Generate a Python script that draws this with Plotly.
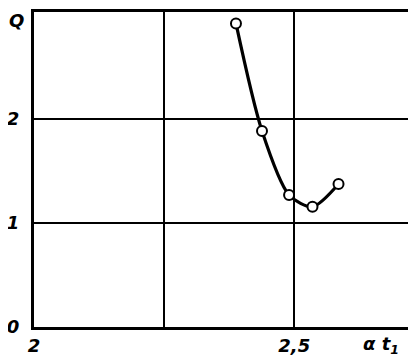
import plotly.graph_objects as go

# data
x_vals = [2.388, 2.438, 2.490, 2.535, 2.585]
q_vals = [2.92, 1.885, 1.27, 1.157, 1.375]

x_tickvals = [2.0, 2.5]
x_ticktext = ["2", "2,5"]
x_gridvals = [2.25]
y_tickvals = [0, 1, 2]
y_ticktext = ["0", "1", "2"]
y_title = "Q"
y_title_at = 3
x_title = "α t<sub>1</sub>"
x_title_at = 2.667

fig = go.Figure()
fig.add_trace(go.Scatter(
    x=x_vals, y=q_vals, mode="lines+markers",
    line=dict(color="black", width=3.2, shape="spline", smoothing=0.8),
    marker=dict(symbol="circle", size=10, color="white",
                line=dict(color="black", width=2)),
    showlegend=False, hoverinfo="skip",
))

font = dict(family="DejaVu Sans, sans-serif", size=18, color="black",
            style="italic", weight="bold")

fig.update_xaxes(
    range=[2.0, 2.73], tickvals=x_tickvals, ticktext=x_ticktext,
    showgrid=True, gridcolor="black", gridwidth=2,
    minor=dict(tickvals=x_gridvals, showgrid=True, gridcolor="black",
               gridwidth=2, ticks=""),
    showline=True, linecolor="black", linewidth=3, mirror=True,
    ticks="", tickfont=font, zeroline=False, ticklabelstandoff=0,
    automargin=False,
)
fig.update_yaxes(
    range=[0, 3.03], tickvals=y_tickvals, ticktext=y_ticktext,
    showgrid=True, gridcolor="black", gridwidth=2,
    showline=True, linecolor="black", linewidth=3, mirror=True,
    ticks="", tickfont=font, zeroline=False, ticklabelstandoff=8,
    automargin=False,
)

fig.add_annotation(
    x=0, y=y_title_at, xref="paper", yref="y", xanchor="right", xshift=-9,
    yshift=-5, borderpad=0,
    text=y_title, showarrow=False, font=font,
)
fig.add_annotation(
    x=x_title_at, y=0, xref="x", yref="paper", yanchor="top", yshift=-4,
    text=x_title, showarrow=False, font=font,
)

# page body adds an 8px margin, so the figure is sized to fit the window
fig.update_layout(
    width=408, height=352,
    margin=dict(l=26, r=2, t=4, b=33),
    paper_bgcolor="white", plot_bgcolor="white",
)

fig.write_html("out.html")
